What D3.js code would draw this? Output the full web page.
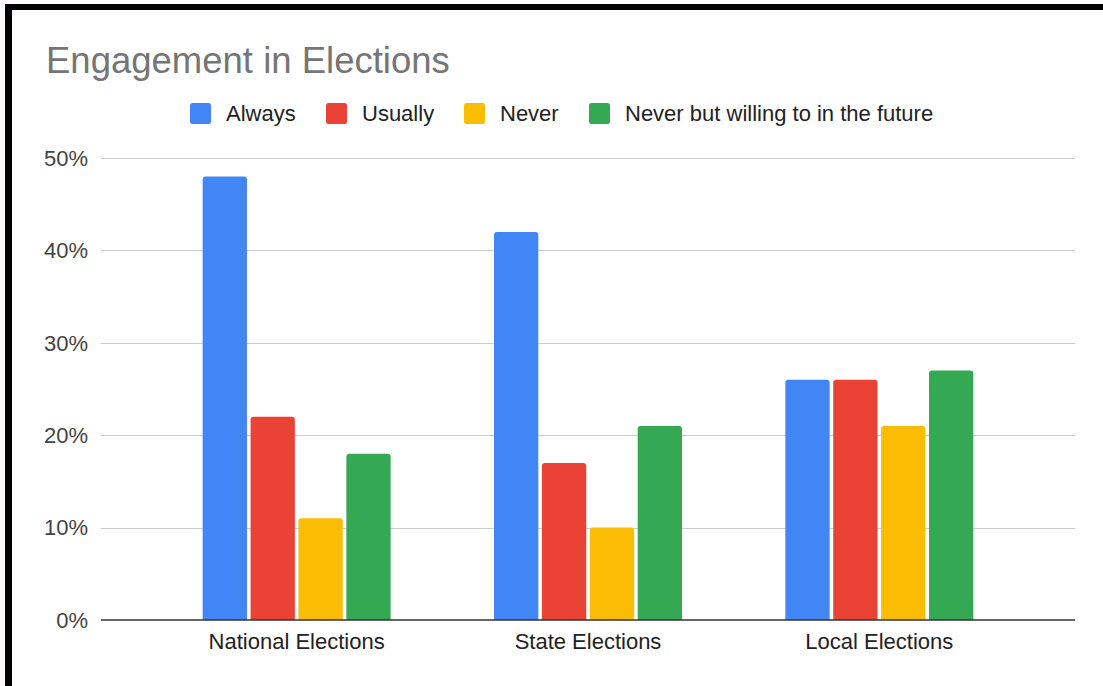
<!DOCTYPE html>
<html>
<head>
<meta charset="utf-8">
<script src="https://cdn.jsdelivr.net/npm/d3@7"></script>
<style>
  html, body { margin: 0; padding: 0; background: #fcf9fc; }
  svg { display: block; font-family: Arial, "Liberation Sans", sans-serif; }
</style>
</head>
<body>
<svg id="chart" width="1103" height="686"></svg>
<script>
const categories = ["National Elections", "State Elections", "Local Elections"];
const seriesNames = ["Always", "Usually", "Never", "Never but willing to in the future"];
const seriesColors = ["#4285F4", "#EA4335", "#FBBC04", "#34A853"];
const alwaysValues = [48, 42, 26];
const usuallyValues = [22, 17, 26];
const neverValues = [11, 10, 21];
const willingValues = [18, 21, 27];
const yTicks = [0, 10, 20, 30, 40, 50];
const title = "Engagement in Elections";

const seriesValues = [alwaysValues, usuallyValues, neverValues, willingValues];

const svg = d3.select("#chart");
const W = 1103, H = 686;

// frame
svg.append("rect").attr("x", 12).attr("y", 10).attr("width", W - 12).attr("height", H - 10).attr("fill", "#ffffff");
svg.append("rect").attr("x", 5).attr("y", 4).attr("width", W - 5).attr("height", 6).attr("fill", "#000");
svg.append("rect").attr("x", 5).attr("y", 4).attr("width", 7).attr("height", H - 4).attr("fill", "#000");

const plotLeft = 101, plotRight = 1075;
const y = d3.scaleLinear().domain([0, 50]).range([620, 158]);
const x0 = d3.scaleBand().domain(categories).range([151, 1025]).paddingInner(0).paddingOuter(0);
const groupInner = 188;
const x1 = d3.scaleBand().domain(seriesNames).range([0, groupInner]).paddingInner(0.075).paddingOuter(0);

// title
svg.append("text").attr("x", 46).attr("y", 73).attr("font-size", 36.5).attr("fill", "#757575").text(title);

// gridlines
svg.append("g").selectAll("line").data(yTicks.filter(t => t > 0)).join("line")
  .attr("x1", plotLeft).attr("x2", plotRight)
  .attr("y1", d => Math.round(y(d)) + 0.5).attr("y2", d => Math.round(y(d)) + 0.5)
  .attr("stroke", "#cccccc").attr("stroke-width", 1.2);

// y tick labels
svg.append("g").selectAll("text").data(yTicks).join("text")
  .attr("x", 88).attr("y", d => y(d)).attr("dy", "0.35em")
  .attr("text-anchor", "end").attr("font-size", 22).attr("fill", "#444")
  .text(d => d + "%");

// bars
const groups = svg.append("g").selectAll("g").data(categories).join("g")
  .attr("transform", c => `translate(${x0(c) + (x0.bandwidth() - groupInner) / 2},0)`);

function topRounded(x, yTop, w, h, r) {
  r = Math.min(r, h, w / 2);
  return `M${x},${yTop + h}V${yTop + r}Q${x},${yTop} ${x + r},${yTop}H${x + w - r}Q${x + w},${yTop} ${x + w},${yTop + r}V${yTop + h}Z`;
}

groups.selectAll("path").data((c, ci) => seriesNames.map((s, si) => ({ s, si, v: seriesValues[si][ci] }))).join("path")
  .attr("d", d => topRounded(x1(d.s), y(d.v), x1.bandwidth(), y(0) - y(d.v), 3))
  .attr("fill", d => seriesColors[d.si]);

// baseline
svg.append("line").attr("x1", plotLeft).attr("x2", plotRight).attr("y1", 620).attr("y2", 620)
  .attr("stroke", "#333333").attr("stroke-width", 1.5);

// category labels
svg.append("g").selectAll("text").data(categories).join("text")
  .attr("x", c => x0(c) + x0.bandwidth() / 2).attr("y", 641).attr("dy", "0.35em")
  .attr("text-anchor", "middle").attr("font-size", 22).attr("fill", "#222")
  .text(c => c);

// legend
const legendX = [190, 326, 464, 589];
const legend = svg.append("g").selectAll("g").data(seriesNames).join("g")
  .attr("transform", (d, i) => `translate(${legendX[i]},103)`);
legend.append("rect").attr("width", 21).attr("height", 21).attr("rx", 2.5).attr("fill", (d, i) => seriesColors[i]);
legend.append("text").attr("x", 36).attr("y", 10.5).attr("dy", "0.35em")
  .attr("font-size", 22).attr("fill", "#222").text(d => d);
</script>
</body>
</html>
